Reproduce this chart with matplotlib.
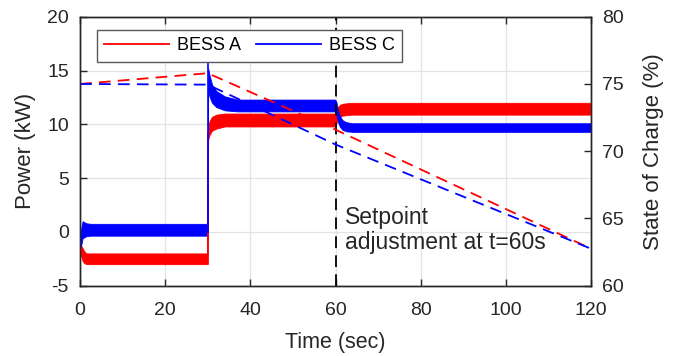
import numpy as np
import matplotlib
matplotlib.use('Agg')
import matplotlib.pyplot as plt

plt.rcParams['font.family'] = ['Liberation Sans', 'DejaVu Sans']
plt.rcParams['axes.unicode_minus'] = False  # 负号用普通连字符

# 功率曲线 (kW)：高频振荡带，用上下包络表示
t_a = [0.0, 0.3, 0.6, 1.0, 1.5, 2.5, 29.9, 30.1, 30.4, 31.0, 32.0, 34.0, 59.9,
       60.2, 60.6, 61.0, 61.6, 62.5, 64.0, 120.0]
a_lo = [-2.0, -2.3, -2.7, -2.9, -3.0, -3.0, -3.0, 8.6, 9.0, 9.4, 9.6, 9.8, 9.8,
        10.1, 10.5, 10.7, 10.8, 10.85, 10.9, 10.9]
a_hi = [-1.0, -1.3, -1.5, -1.8, -2.0, -2.0, -2.0, 9.6, 10.3, 10.7, 10.9, 11.0, 11.0,
        11.3, 11.6, 11.8, 11.9, 11.95, 12.0, 12.0]

t_c = [0.0, 0.3, 0.6, 1.0, 1.5, 2.5, 29.9, 30.1, 30.4, 31.0, 32.0, 34.0, 37.0, 59.9,
       60.2, 60.6, 61.0, 61.6, 62.5, 64.0, 120.0]
c_lo = [-1.5, -1.2, -0.6, -0.5, -0.4, -0.35, -0.35, 13.2, 12.6, 12.0, 11.6, 11.3, 11.2, 11.2,
        10.9, 10.2, 9.8, 9.5, 9.35, 9.3, 9.3]
c_hi = [-0.5, 0.4, 1.0, 0.9, 0.8, 0.75, 0.75, 15.2, 14.6, 13.7, 13.1, 12.6, 12.3, 12.3,
        12.1, 11.3, 10.8, 10.4, 10.2, 10.1, 10.1]

# 初始与 t=30s 的尖峰
spike_t = [0.0, 30.0]
spike_a = [[9.1, -2.0], [-3.0, 9.2]]
spike_c = [[9.0, -1.5], [0.0, 16.0]]

# 荷电状态 SOC (%)
soc_t = [0, 30, 60, 120]
soc_a = [75.0, 75.8, 71.6, 62.75]
soc_c = [75.0, 74.95, 70.5, 62.75]

RED = '#ff0000'
BLUE = '#0000ff'
TXT = '#262626'

fig = plt.figure(figsize=(6.84, 3.56), dpi=100)
ax = fig.add_axes([0.117, 0.1975, 0.747, 0.7555])
ax2 = ax.twinx()

# 功率带
ax.fill_between(t_a, a_lo, a_hi, color=RED, lw=0.6, ec=RED, zorder=3)
ax.fill_between(t_c, c_lo, c_hi, color=BLUE, lw=0.6, ec=BLUE, zorder=3)
for i, ts in enumerate(spike_t):
    ax.plot([ts, ts], spike_a[i], color=RED, lw=1.2, zorder=3)
    ax.plot([ts, ts], spike_c[i], color=BLUE, lw=1.2, zorder=4)

# 图例用的线条
ax.plot([], [], color=RED, lw=1.3, label='BESS A')
ax.plot([], [], color=BLUE, lw=1.3, label='BESS C')

# SOC 虚线（画在功率带之上）
ax2.plot(soc_t, soc_a, color=RED, lw=1.3, dashes=(6.5, 4))
ax2.plot(soc_t, soc_c, color=BLUE, lw=1.3, dashes=(6.5, 4))

# t=60s 设定值调整
ax.axvline(60, color='black', lw=1.3, dashes=(6.5, 4), zorder=5)
ax.text(62.2, 2.4, 'Setpoint\nadjustment at t=60s', fontsize=16.5, color=TXT,
        va='top', ha='left', linespacing=1.1, zorder=6)

ax.set_xlim(0, 120)
ax.set_ylim(-5, 20)
ax2.set_ylim(60, 80)
ax.set_xticks(np.arange(0, 121, 20))
ax.set_yticks(np.arange(-5, 21, 5))
ax2.set_yticks(np.arange(60, 81, 5))

ax.grid(True, color='#e3e3e3', lw=0.9)
ax.set_axisbelow(True)

for a in (ax, ax2):
    for s in a.spines.values():
        s.set_color(TXT)
        s.set_linewidth(1.0)
ax.tick_params(axis='y', direction='in', length=5, width=1.0, colors=TXT,
               labelsize=14, right=False, pad=8)
ax.tick_params(axis='x', direction='in', length=5, width=1.0, colors=TXT,
               labelsize=14, top=True, pad=12)
ax2.tick_params(axis='y', direction='in', length=5, width=1.0, colors=TXT,
                labelsize=14, pad=8)

ax.set_xlabel('Time (sec)', fontsize=15.5, color=TXT, labelpad=9)
ax.set_ylabel('Power (kW)', fontsize=16, color=TXT, labelpad=8)
ax2.set_ylabel('State of Charge (%)', fontsize=16, color=TXT, labelpad=14)

leg = ax.legend(loc='upper left', ncol=2, fontsize=13, handlelength=3.6,
                frameon=True, fancybox=False, bbox_to_anchor=(0.033, 0.95),
                borderaxespad=0, columnspacing=0.8, handletextpad=0.45,
                borderpad=0.4)
leg.get_frame().set_edgecolor('#595959')
leg.get_frame().set_linewidth(1.0)
leg.get_frame().set_alpha(1)

plt.savefig('out.png', dpi=100)
